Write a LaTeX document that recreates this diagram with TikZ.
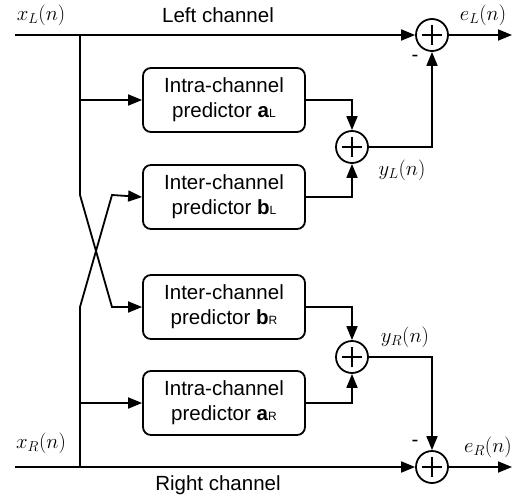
\documentclass[tikz,border=0pt]{standalone}
\usepackage{fontspec}
\newfontfamily\hv{Liberation Sans}
\usetikzlibrary{arrows.meta}
\newcommand\chsub[1]{{\fontsize{12}{12}\selectfont #1}}
\begin{document}
\begin{tikzpicture}[x=1pt,y=-1pt,line width=1.8pt,
  >={Triangle[length=14pt,width=11pt]},
  pbox/.style={draw,rounded corners=8pt,minimum width=162pt,minimum height=64pt,align=center,inner sep=0pt,font=\hv\fontsize{20.5}{25}\selectfont},
  sumc/.style={draw,circle,minimum size=32pt,inner sep=0pt,
    path picture={\draw[line width=1.4pt]
      ([xshift=-10pt]path picture bounding box.center) -- ([xshift=10pt]path picture bounding box.center)
      ([yshift=-10pt]path picture bounding box.center) -- ([yshift=10pt]path picture bounding box.center);}},
  lab/.style={font=\fontsize{20.5}{24}\selectfont,inner sep=0pt},
  txt/.style={font=\hv\fontsize{20.5}{24}\selectfont,inner sep=0pt}]
\useasboundingbox (0,0) rectangle (526,497);
% boxes
\node[pbox] (ia) at (224,100) {Intra-channel\\predictor \textbf{a}\chsub{L}};
\node[pbox] (ib) at (224,197) {Inter-channel\\predictor \textbf{b}\chsub{L}};
\node[pbox] (rb) at (224,307) {Inter-channel\\predictor \textbf{b}\chsub{R}};
\node[pbox] (ra) at (224,403) {Intra-channel\\predictor \textbf{a}\chsub{R}};
% adders
\node[sumc] (sL) at (352,147) {};
\node[sumc] (sR) at (352,357) {};
\node[sumc] (eL) at (432,35) {};
\node[sumc] (eR) at (432,467) {};
% coordinates
\coordinate (inL) at (15,35);
\coordinate (inR) at (15,467);
\coordinate (outL) at (512,35);
\coordinate (outR) at (512,467);
\coordinate (jL) at (80,35);
\coordinate (jR) at (80,467);
\coordinate (kL) at (80,195);
\coordinate (kR) at (80,307);
\coordinate (cL) at (112,195);
\coordinate (cR) at (112,307);
\coordinate (tA) at (80,100);
\coordinate (tB) at (80,403);
% connectors
\draw[->] (inL) -- (eL);
\draw[->] (eL) -- (outL);
\draw[->] (inR) -- (eR);
\draw[->] (eR) -- (outR);
\draw[->] (jL) -- (kL) -- (cR) -- (rb.west);
\draw[->] (jR) -- (kR) -- (cL) -- (ib.west);
\draw[->] (tA) -- (ia.west);
\draw[->] (tB) -- (ra.west);
\draw[->] (ia.east) -| (sL.north);
\draw[->] (ib.east) -| (sL.south);
\draw[->] (sL.east) -| (eL.south);
\draw[->] (rb.east) -| (sR.north);
\draw[->] (ra.east) -| (sR.south);
\draw[->] (sR.east) -| (eR.north);
% labels
\node[lab] (xl) at (41,15) {$x_L(n)$};
\node[lab] (xr) at (41,443) {$x_R(n)$};
\node[lab] (el) at (483,15) {$e_L(n)$};
\node[lab] (er) at (488,447) {$e_R(n)$};
\node[lab] (yl) at (402,170) {$y_L(n)$};
\node[lab] (yr) at (405,337) {$y_R(n)$};
\node[txt] (lc) at (218,15) {Left channel};
\node[txt] (rc) at (218,485) {Right channel};
\node[txt] (m1) at (415,58) {-};
\node[txt] (m2) at (415,443) {-};
\end{tikzpicture}
\end{document}
